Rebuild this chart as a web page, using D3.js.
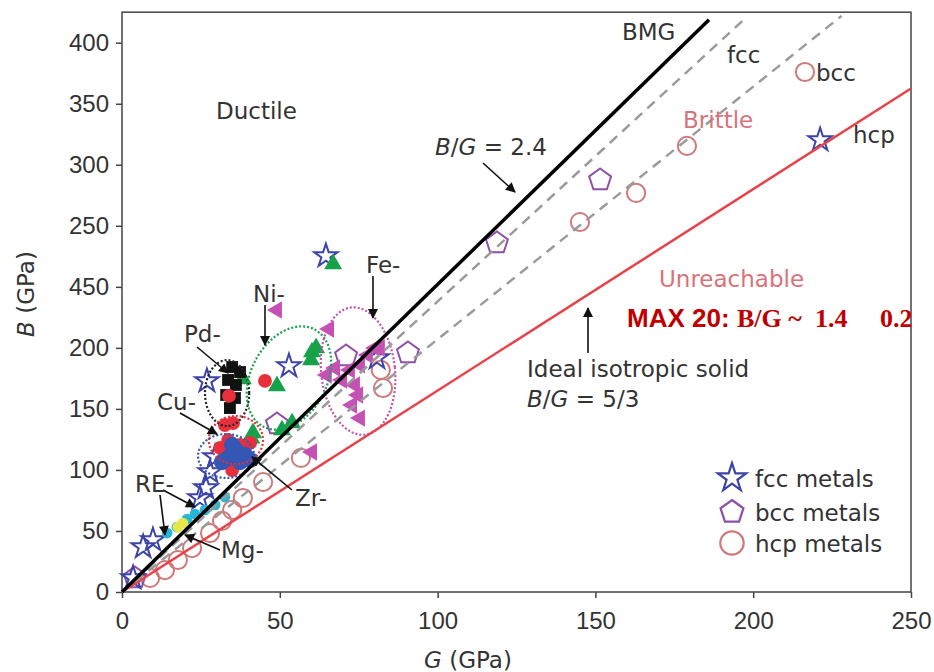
<!doctype html>
<html>
  <head>
    <script src="https://cdnjs.cloudflare.com/ajax/libs/d3/7.8.5/d3.min.js"></script>
    <style>
      body { margin: 0; background: #fff; }
      svg { display: block; font-family: "DejaVu Sans", sans-serif; }
      text { fill: #333; font-size: 23px; }
      .axis text { font-size: 24px; fill: #333; }
      .axis line { stroke: #444; stroke-width: 1.5px; }
      .pink { fill: #d8737a; }
      .max { fill: #c00000; font-weight: bold; font-size: 26px; }
    </style>
  </head>
  <body>
    <svg width="934" height="672"></svg>
    <script>
      // ticks (the y labels are printed out of order in the source figure)
      const xTicks = [0, 50, 100, 150, 200, 250];
      const yTicks = [0, 50, 100, 150, 200, 250, 300, 350, 400, 450];
      const yTickLabels = ["0", "50", "100", "150", "200", "450", "250", "300", "350", "400"];

      // [G, B] in GPa
      const fccMetals = [[221.2, 370.3], [64.6, 275.3], [52.9, 185.1], [26.9, 172.9], [27.9, 98.3],
        [26.6, 85.2], [24.7, 77], [9.8, 42.6], [6.7, 36.9], [80.8, 191.7], [29.5, 110.6], [3.5, 11.5]];
      const bccMetals = [[151.5, 337.5], [118.8, 285.9], [90.6, 195.8], [71, 193.3], [49.1, 137.6], [4.1, 11.5]];
      const hcpMetals = [[216.4, 426], [179, 365.4], [162.9, 326.9], [145.1, 303.1], [82.7, 167.1], [82, 181.9],
        [56.7, 109.8], [44.7, 90.1], [38.3, 77], [34.9, 67.2], [31.7, 58.2], [27.9, 48.3], [22.2, 36],
        [17.7, 26.2], [13.6, 18], [8.9, 11.5]];
      const niBMG = [[66.9, 268.7], [60.2, 196.6], [61.5, 199.9], [59.9, 190.1], [49.1, 168.8], [38.3, 174.5],
        [53.9, 138.4], [50.7, 132.7], [41.5, 130.3], [41, 126]];
      const feBMG = [[49.1, 231], [65.6, 215.4], [64.9, 177.8], [67.5, 183.5], [69.7, 173.7], [72.2, 181.9],
        [75.4, 186], [77.9, 194.1], [80.2, 199.9], [73.8, 169.6], [74.8, 161.4], [72.9, 153.2],
        [75.4, 142.5], [81.7, 199.9], [60.2, 114.7]];
      const pdBMG = [[34.9, 184.3], [37.4, 180.2], [33.6, 173.7], [36.1, 169.6], [33, 161.4], [35.8, 158.9], [34.2, 150.7]];
      const cuBMG = [[45.3, 172.9], [33.9, 160.6], [32.6, 136.8], [33.6, 124.5], [37.4, 120.4], [31.1, 118],
        [34.9, 99.9], [40.6, 122.1], [35.2, 138.4]];
      const zrBMG = [[36.1, 116.3], [39, 112.2], [33.6, 109.8], [37.4, 106.5], [40.6, 108.1], [34.9, 120.4], [31.7, 106.5]];
      const reBMG = [[14.3, 48.3], [17.4, 53.2], [20.6, 59.8], [23.1, 63.9], [26.3, 67.2], [29.5, 71.3], [32.6, 77.8]];
      const mgBMG = [[17.7, 53.2], [19.3, 56.5]];

      // B/G reference lines: ratio and where each one stops
      const ratioLines = [
        { ratio: 1.65, gEnd: 250, color: "#e8424a", width: 2.5, dash: null },
        { ratio: 2.07, gEnd: 228, color: "#9a9a9a", width: 2.5, dash: "10,7" },
        { ratio: 2.38, gEnd: 198, color: "#9a9a9a", width: 2.5, dash: "10,7" },
        { ratio: 2.52, gEnd: 186, color: "#000", width: 3.5, dash: null }
      ];

      // dotted outlines round the BMG families: centre, half-widths (GPa), tilt
      const clusters = [
        { g: 33.3, b: 163, rg: 7, rb: 27, tilt: 0, color: "#222" },
        { g: 52.9, b: 175.3, rg: 12, rb: 45, tilt: 28, color: "#1aa34a" },
        { g: 74.8, b: 181, rg: 11.7, rb: 52.4, tilt: -6, color: "#c651b5" },
        { g: 36.1, b: 124.5, rg: 8.6, rb: 19.7, tilt: 0, color: "#e8303c" },
        { g: 33, b: 111.4, rg: 8.9, rb: 18, tilt: 0, color: "#3456b5" }
      ];

      const legendLabels = ["fcc metals", "bcc metals", "hcp metals"];

      const svg = d3.select("svg");
      const x = d3.scaleLinear().domain([0, 250]).range([122, 911]);
      const y = d3.scaleLinear().domain([0, 450]).range([592, 42.7]);

      svg.append("defs").append("marker")
          .attr("id", "head")
          .attr("markerUnits", "userSpaceOnUse")
          .attr("viewBox", "0 0 10 10")
          .attr("refX", 9).attr("refY", 5)
          .attr("markerWidth", 11).attr("markerHeight", 10)
          .attr("orient", "auto")
        .append("path")
          .attr("d", "M0,0L10,5L0,10z")
          .attr("fill", "#111");

      // axes
      svg.append("g")
          .attr("class", "axis")
          .attr("transform", `translate(${x(0)},0)`)
          .call(d3.axisLeft(y).tickValues(yTicks).tickFormat((d, i) => yTickLabels[i]).tickSize(6).tickPadding(7))
          .call(g => g.select(".domain").remove());
      svg.append("g")
          .attr("class", "axis")
          .attr("transform", `translate(0,${y(0)})`)
          .call(d3.axisBottom(x).tickValues(xTicks).tickSize(6).tickPadding(14))
          .call(g => g.select(".domain").remove());

      svg.append("rect")
          .attr("x", x(0)).attr("y", y(475))
          .attr("width", x(250) - x(0)).attr("height", y(0) - y(475))
          .attr("fill", "none").attr("stroke", "#444").attr("stroke-width", 1.5);

      svg.append("text")
          .attr("transform", "translate(34,294) rotate(-90)")
          .attr("text-anchor", "middle")
          .html('<tspan font-style="italic">B</tspan> (GPa)');
      svg.append("text")
          .attr("x", 468).attr("y", 668)
          .attr("text-anchor", "middle")
          .html('<tspan font-style="italic">G</tspan> (GPa)');

      // markers
      const plot = svg.append("g");
      const pentagon = r => d3.range(5).map(k => {
        const a = -Math.PI / 2 + k * 2 * Math.PI / 5;
        return [r * Math.cos(a), r * Math.sin(a)];
      });
      const pentPath = r => "M" + pentagon(r).join("L") + "Z";

      function openMarks(data, d, color) {
        plot.append("g").selectAll("path")
          .data(data).enter()
          .append("path")
            .attr("transform", p => `translate(${x(p[0])},${y(p[1])})`)
            .attr("d", d)
            .attr("fill", "none")
            .attr("stroke", color)
            .attr("stroke-width", 2);
      }
      function filledMarks(data, d, color, rot) {
        plot.append("g").selectAll("path")
          .data(data).enter()
          .append("path")
            .attr("transform", p => `translate(${x(p[0])},${y(p[1])}) rotate(${rot || 0})`)
            .attr("d", d)
            .attr("fill", color)
            .attr("stroke", "none");
      }

      const starD = d3.symbol(d3.symbolStar, 170)();
      const circleD = d3.symbol(d3.symbolCircle, 260)();
      openMarks(hcpMetals, circleD, "#cf7a7a");
      openMarks(bccMetals, pentPath(11.5), "#8e4fa8");
      openMarks(fccMetals, starD, "#3d44a8");

      filledMarks(feBMG, d3.symbol(d3.symbolTriangle, 130)(), "#c651b5", -90);
      filledMarks(niBMG, d3.symbol(d3.symbolTriangle, 140)(), "#17a24a");
      filledMarks(pdBMG, d3.symbol(d3.symbolSquare, 140)(), "#111");
      filledMarks(cuBMG, d3.symbol(d3.symbolCircle, 150)(), "#e8303c");
      filledMarks(zrBMG, d3.symbol(d3.symbolCircle, 210)(), "#3456b5");
      filledMarks(reBMG, d3.symbol(d3.symbolCircle, 90)(), "#27b6d6");
      filledMarks(mgBMG, d3.symbol(d3.symbolCircle, 90)(), "#e6e84a");

      plot.append("g").selectAll("ellipse")
        .data(clusters).enter()
        .append("ellipse")
          .attr("transform", c => `translate(${x(c.g)},${y(c.b)}) rotate(${c.tilt})`)
          .attr("rx", c => x(c.rg) - x(0))
          .attr("ry", c => y(0) - y(c.rb))
          .attr("fill", "none")
          .attr("stroke", c => c.color)
          .attr("stroke-width", 2.2)
          .attr("stroke-dasharray", "2,2");

      // B/G lines
      svg.append("g").selectAll("line")
        .data(ratioLines).enter()
        .append("line")
          .attr("x1", x(0)).attr("y1", y(0))
          .attr("x2", l => x(l.gEnd)).attr("y2", l => y(l.ratio * l.gEnd))
          .attr("stroke", l => l.color)
          .attr("stroke-width", l => l.width)
          .attr("stroke-dasharray", l => l.dash);

      // annotations
      const arrows = [
        [483, 163, 515, 192], [588, 353, 588, 308], [265, 305, 265, 345], [373, 276, 373, 318],
        [197, 347, 228, 373], [180, 413, 217, 434], [292, 490, 252, 457],
        [163, 490, 195, 507], [160, 495, 165, 535], [220, 550, 185, 535]
      ];
      svg.append("g").selectAll("line")
        .data(arrows).enter()
        .append("line")
          .attr("x1", a => a[0]).attr("y1", a => a[1])
          .attr("x2", a => a[2]).attr("y2", a => a[3])
          .attr("stroke", "#111").attr("stroke-width", 1.6)
          .attr("marker-end", "url(#head)");

      const notes = [
        ["Ductile", 216, 119], ["BMG", 622, 40], ["fcc", 727, 63], ["bcc", 816, 81], ["hcp", 853, 143],
        ["Ni-", 253, 302], ["Fe-", 366, 273], ["Pd-", 184, 342], ["Cu-", 157, 410], ["Zr-", 295, 506],
        ["RE-", 135, 492], ["Mg-", 221, 558], ["Ideal isotropic solid", 527, 377]
      ];
      svg.append("g").selectAll("text")
        .data(notes).enter()
        .append("text")
          .attr("x", n => n[1]).attr("y", n => n[2])
          .text(n => n[0]);

      svg.append("text").attr("class", "pink").attr("x", 683).attr("y", 128).text("Brittle");
      svg.append("text").attr("class", "pink").attr("x", 659).attr("y", 287).text("Unreachable");
      svg.append("text").attr("x", 435).attr("y", 155)
        .html('<tspan font-style="italic">B</tspan>/<tspan font-style="italic">G</tspan> = 2.4');
      svg.append("text").attr("x", 527).attr("y", 407)
        .html('<tspan font-style="italic">B</tspan>/<tspan font-style="italic">G</tspan> = 5/3');

      svg.append("text").attr("class", "max").attr("x", 627).attr("y", 327)
        .style("font-family", '"Liberation Sans", Arial, sans-serif').text("MAX 20:");
      [["B/G ~", 737], ["1.4", 815], ["0.2", 880]].forEach(t => {
        svg.append("text").attr("class", "max").attr("x", t[1]).attr("y", 327)
          .style("font-family", '"Liberation Serif", serif').text(t[0]);
      });

      // legend
      const legend = svg.append("g").attr("transform", "translate(732,478)");
      const legendShapes = [d3.symbol(d3.symbolStar, 250)(), pentPath(12), d3.symbol(d3.symbolCircle, 430)()];
      const legendColors = ["#3d44a8", "#8e4fa8", "#cf7a7a"];
      legendLabels.forEach((lab, i) => {
        const row = legend.append("g").attr("transform", `translate(0,${[0, 34, 65][i]})`);
        row.append("path").attr("d", legendShapes[i])
          .attr("fill", "none").attr("stroke", legendColors[i]).attr("stroke-width", 2.2);
        row.append("text").attr("x", 23).attr("y", 9).text(lab);
      });
    </script>
  </body>
</html>
